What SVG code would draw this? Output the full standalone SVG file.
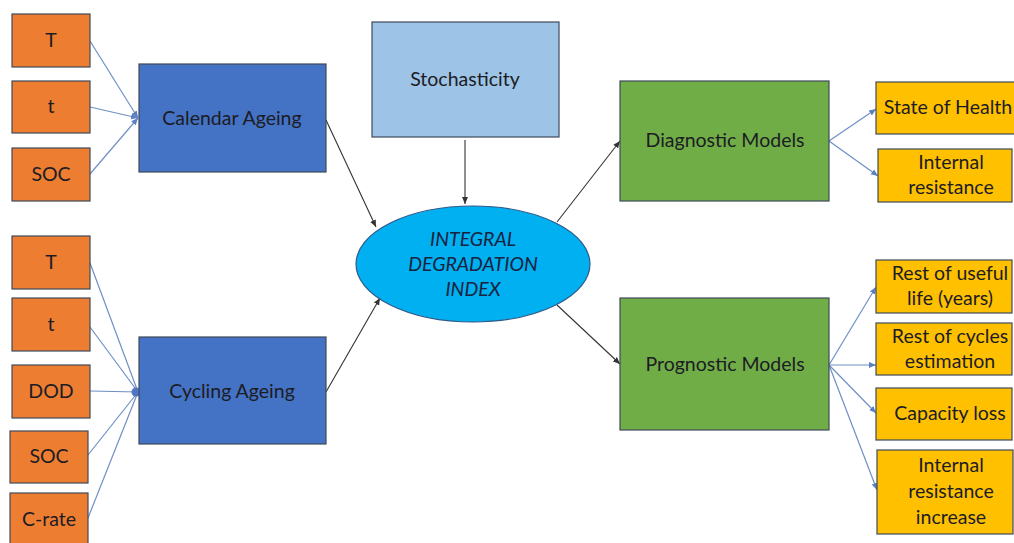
<svg xmlns="http://www.w3.org/2000/svg" width="1014" height="543" viewBox="0 0 1014 543">
<style>
  .box { stroke: #3f4a5a; stroke-width: 1.2; }
  .org { fill: #ED7D31; }
  .blu { fill: #4472C4; }
  .lbl { fill: #9DC3E6; }
  .grn { fill: #70AD47; }
  .gld { fill: #FFC000; }
  text { font-family: Lato, "Liberation Sans", sans-serif; font-size: 19.5px; fill: #1c1c24; text-anchor: middle; }
  .it { font-style: italic; fill: #1a2240; }
  .bl { stroke: #6f8fc4; stroke-width: 1.2; fill: none; }
  .bk { stroke: #333; stroke-width: 1.1; fill: none; }
</style>
<defs>
  <marker id="ab" markerWidth="8" markerHeight="8" refX="7" refY="4" orient="auto" markerUnits="userSpaceOnUse">
    <path d="M0,1 L7,4 L0,7 Z" fill="#333"/>
  </marker>
  <marker id="ablu" markerWidth="8" markerHeight="8" refX="7" refY="4" orient="auto" markerUnits="userSpaceOnUse">
    <path d="M0,1 L7,4 L0,7 Z" fill="#5b7fc0"/>
  </marker>
</defs>
<rect width="1014" height="543" fill="#fff"/>

<g id="connectors">
  <line class="bl" x1="90" y1="41" x2="138" y2="118" marker-end="url(#ablu)"/>
  <line class="bl" x1="90" y1="107" x2="138" y2="118" marker-end="url(#ablu)"/>
  <line class="bl" x1="90" y1="174" x2="138" y2="118" marker-end="url(#ablu)"/>
  <line class="bl" x1="90" y1="263" x2="138" y2="392"/>
  <line class="bl" x1="90" y1="327" x2="138" y2="392"/>
  <line class="bl" x1="90" y1="391" x2="138" y2="392"/>
  <line class="bl" x1="88" y1="455" x2="138" y2="392"/>
  <line class="bl" x1="88" y1="518" x2="138" y2="392"/>
  <circle cx="136" cy="392" r="4.5" fill="#4f78c4"/>
  <line class="bk" x1="326" y1="120" x2="376" y2="227" marker-end="url(#ab)"/>
  <line class="bk" x1="326" y1="392" x2="380" y2="298" marker-end="url(#ab)"/>
  <line class="bk" x1="465" y1="140" x2="465" y2="204" marker-end="url(#ab)"/>
  <line class="bk" x1="557" y1="222" x2="620" y2="141" marker-end="url(#ab)"/>
  <line class="bk" x1="557" y1="305" x2="620" y2="364" marker-end="url(#ab)"/>
  <line class="bl" x1="829" y1="141" x2="876" y2="109" marker-end="url(#ablu)"/>
  <line class="bl" x1="829" y1="141" x2="878" y2="176" marker-end="url(#ablu)"/>
  <line class="bl" x1="829" y1="365" x2="876" y2="287" marker-end="url(#ablu)"/>
  <line class="bl" x1="829" y1="365" x2="876" y2="365" marker-end="url(#ablu)"/>
  <line class="bl" x1="829" y1="365" x2="876" y2="413" marker-end="url(#ablu)"/>
  <line class="bl" x1="829" y1="365" x2="877" y2="490" marker-end="url(#ablu)"/>
</g>

<g id="cal-T"><rect class="box org" x="12" y="14" width="78" height="53"/><text x="51" y="47">T</text></g>
<g id="cal-t"><rect class="box org" x="12" y="81" width="78" height="52"/><text x="51" y="113">t</text></g>
<g id="cal-SOC"><rect class="box org" x="12" y="148" width="78" height="53"/><text x="51" y="181">SOC</text></g>

<g id="cyc-T"><rect class="box org" x="12" y="236" width="78" height="53"/><text x="51" y="269">T</text></g>
<g id="cyc-t"><rect class="box org" x="12" y="298" width="78" height="53"/><text x="51" y="331">t</text></g>
<g id="cyc-DOD"><rect class="box org" x="12" y="365" width="78" height="53"/><text x="51" y="398">DOD</text></g>
<g id="cyc-SOC"><rect class="box org" x="10" y="431" width="78" height="52"/><text x="49" y="463">SOC</text></g>
<g id="cyc-Crate"><rect class="box org" x="10" y="493" width="78" height="56"/><text x="49" y="526">C-rate</text></g>

<g id="calendar"><rect class="box blu" x="139" y="64" width="187" height="108"/><text x="232" y="125">Calendar Ageing</text></g>
<g id="cycling"><rect class="box blu" x="139" y="337" width="187" height="107"/><text x="232" y="398">Cycling Ageing</text></g>

<g id="stochasticity"><rect class="box lbl" x="372" y="22" width="187" height="115"/><text x="465" y="86">Stochasticity</text></g>

<g id="index">
  <ellipse cx="473" cy="264" rx="117" ry="58" fill="#00B0F0" stroke="#2f5a8a" stroke-width="1.2"/>
  <text class="it" x="473" y="246">INTEGRAL</text>
  <text class="it" x="473" y="271">DEGRADATION</text>
  <text class="it" x="473" y="296">INDEX</text>
</g>

<g id="diagnostic"><rect class="box grn" x="620" y="81" width="209" height="120"/><text x="725" y="147">Diagnostic Models</text></g>
<g id="prognostic"><rect class="box grn" x="620" y="298" width="209" height="132"/><text x="725" y="371">Prognostic Models</text></g>

<g id="soh"><rect class="box gld" x="876" y="82" width="142" height="52"/><text x="948" y="114">State of Health</text></g>
<g id="ir"><rect class="box gld" x="878" y="149" width="134" height="53"/><text x="951" y="169">Internal</text><text x="951" y="194">resistance</text></g>

<g id="rul"><rect class="box gld" x="876" y="260" width="136" height="53"/><text x="950" y="280">Rest of useful</text><text x="950" y="305">life (years)</text></g>
<g id="roc"><rect class="box gld" x="876" y="323" width="136" height="52"/><text x="950" y="343">Rest of cycles</text><text x="950" y="368">estimation</text></g>
<g id="cap"><rect class="box gld" x="876" y="388" width="136" height="52"/><text x="950" y="420">Capacity loss</text></g>
<g id="iri"><rect class="box gld" x="877" y="450" width="136" height="84"/><text x="951" y="472">Internal</text><text x="951" y="498">resistance</text><text x="951" y="524">increase</text></g>
</svg>
